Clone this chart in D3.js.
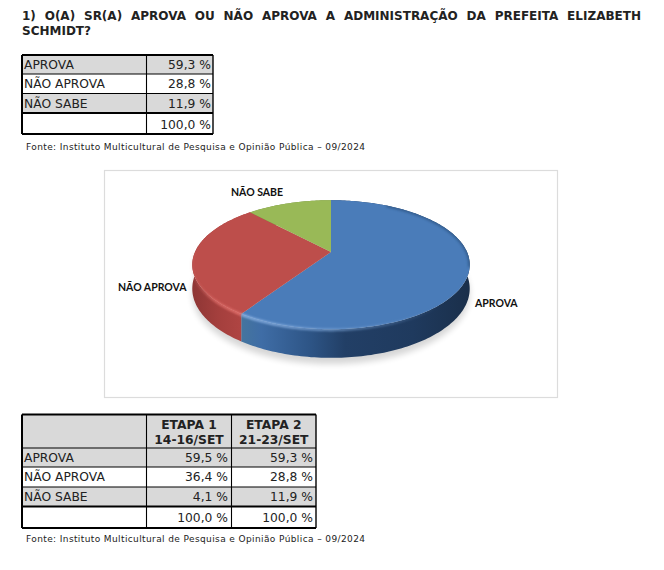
<!DOCTYPE html>
<html>
<head>
<meta charset="utf-8">
<script src="https://cdn.jsdelivr.net/npm/d3@7.9.0/dist/d3.min.js"></script>
<style>
  html, body { margin: 0; padding: 0; background: #fff; }
  svg { display: block; }
  text { font-family: "DejaVu Sans", Verdana, sans-serif; fill: #222; }
  .pie-label { font-family: Lato, "Open Sans", sans-serif; font-weight: 700; font-size: 10.5px; fill: #111; }
</style>
</head>
<body>
<svg width="664" height="570"></svg>
<script>
const titleLines = [
  '1) O(A) SR(A) APROVA OU NÃO APROVA A ADMINISTRAÇÃO DA PREFEITA ELIZABETH',
  'SCHMIDT?'
];
const sourceText = 'Fonte: Instituto Multicultural de Pesquisa e Opinião Pública – 09/2024';
const categories = ['APROVA', 'NÃO APROVA', 'NÃO SABE'];
const etapa1 = [59.5, 36.4, 4.1];
const etapa2 = [59.3, 28.8, 11.9];
const totals = [100.0, 100.0];
const etapaHeaders = [['ETAPA 1', '14-16/SET'], ['ETAPA 2', '21-23/SET']];

const svg = d3.select('svg');
const fmt = (v) => d3.format('.1f')(v).replace('.', ',') + ' %';
const defs = svg.append('defs');

// title, justified to the page width like the original document
const line1 = svg.append('text').attr('x', 22).attr('y', 20)
  .attr('font-size', 12).attr('font-weight', 700).text(titleLines[0]);
const gaps = titleLines[0].split(' ').length - 1;
line1.attr('word-spacing', (619 - line1.node().getComputedTextLength()) / gaps);
svg.append('text').attr('x', 22).attr('y', 35)
  .attr('font-size', 12).attr('font-weight', 700).text(titleLines[1]);

function drawTable(cols, rows, shaded, cells) {
  const g = svg.append('g');
  const width = cols[cols.length - 1] - cols[0];
  g.selectAll('rect').data(shaded).join('rect')
    .attr('x', cols[0]).attr('width', width)
    .attr('y', (i) => rows[i])
    .attr('height', (i) => rows[i + 1] - rows[i])
    .attr('fill', '#d9d9d9');
  g.selectAll('line.h').data(rows).join('line').attr('class', 'h')
    .attr('x1', cols[0]).attr('x2', cols[cols.length - 1])
    .attr('y1', (d) => d).attr('y2', (d) => d)
    .attr('stroke', '#000')
    .attr('stroke-width', (d, i) => (i === 0 || i >= rows.length - 2 ? 1.8 : 1.1));
  g.selectAll('line.v').data(cols).join('line').attr('class', 'v')
    .attr('y1', rows[0]).attr('y2', rows[rows.length - 1])
    .attr('x1', (d) => d).attr('x2', (d) => d)
    .attr('stroke', '#000')
    .attr('stroke-width', (d, i) => (i === 0 ? 2 : i === cols.length - 1 ? 1.4 : 1.1));
  g.selectAll('text').data(cells).join('text')
    .attr('x', (d) => d.x).attr('y', (d) => d.y)
    .attr('text-anchor', (d) => d.anchor || 'start')
    .attr('font-size', 12.3)
    .attr('font-weight', (d) => (d.bold ? 700 : 400))
    .text((d) => d.text);
}

// first table
const t1Cols = [22, 146.5, 213];
const t1Rows = [55, 74, 93.5, 113, 134];
const t1Cells = [];
categories.forEach((c, i) => {
  t1Cells.push({ x: 24, y: t1Rows[i] + 14.2, text: c });
  t1Cells.push({ x: 211, y: t1Rows[i] + 14.2, text: fmt(etapa2[i]), anchor: 'end' });
});
t1Cells.push({ x: 211, y: t1Rows[3] + 15.6, text: fmt(totals[1]), anchor: 'end' });
drawTable(t1Cols, t1Rows, [0, 2], t1Cells);

svg.append('text').attr('x', 26).attr('y', 150).attr('font-size', 9)
  .attr('textLength', 339).attr('fill', '#333').text(sourceText);

// chart frame
svg.append('rect').attr('x', 104.5).attr('y', 170.5).attr('width', 453).attr('height', 227)
  .attr('fill', '#fff').attr('stroke', '#dcdcdc').attr('stroke-width', 1.2);

// pie in perspective: angles come from d3.pie, rim from a projected circle
const cx = 331, cy = 252, rx = 136, ry = 62, persp = 0.197, depth = 23;
const project = (a, drop = 0) => {
  const w = 1 + persp * Math.cos(a);
  return [cx + rx * Math.sin(a) / w, cy + (-ry * Math.cos(a) + drop) / w];
};
const rim = (a0, a1, drop = 0) =>
  d3.range(a0, a1, 0.02).concat(a1).map((a) => project(a, drop));
const line = d3.line();
const slices = d3.pie().sort(null)(etapa2);

const gradient = (id, stops, x1, x2) => {
  const gr = defs.append('linearGradient').attr('id', id)
    .attr('gradientUnits', 'userSpaceOnUse')
    .attr('x1', x1).attr('x2', x2).attr('y1', 0).attr('y2', 0);
  stops.forEach(([o, c, op]) => gr.append('stop').attr('offset', o)
    .attr('stop-color', c).attr('stop-opacity', op === undefined ? 1 : op));
  return `url(#${id})`;
};
defs.append('filter').attr('id', 'soft').attr('x', '-20%').attr('y', '-20%')
  .attr('width', '140%').attr('height', '140%')
  .append('feGaussianBlur').attr('stdDeviation', 1.1);
defs.append('filter').attr('id', 'shadow').attr('x', '-20%').attr('y', '-20%')
  .attr('width', '140%').attr('height', '140%')
  .append('feGaussianBlur').attr('stdDeviation', 3);
defs.append('clipPath').attr('id', 'topFace').append('path')
  .attr('d', line(rim(0, 2 * Math.PI)) + 'Z');

const wallFill = [
  gradient('wall0', [[0, '#44749f'], [0.08, '#3f6da6'], [0.3, '#2d5485'], [0.45, '#223f66'], [0.75, '#1f3a5e'], [1, '#1a2f4a']], 243, 470),
  gradient('wall1', [[0, '#8e3635'], [0.5, '#a43f3d'], [1, '#b04543']], 193, 243),
  '#6f8a3e'
];
const topFill = ['#4a7cb9', '#bd4e4b', '#99b957'];

// soft shadow below the pie
svg.append('path')
  .attr('d', line(rim(0, 2 * Math.PI, depth + 5)) + 'Z')
  .attr('fill', '#000').attr('opacity', 0.16).attr('filter', 'url(#shadow)');

// walls first, the top faces hide whatever lies behind
svg.append('g').selectAll('path').data(slices).join('path')
  .attr('d', (d) => line(rim(d.startAngle, d.endAngle).concat(rim(d.startAngle, d.endAngle, depth).reverse())) + 'Z')
  .attr('fill', (d, i) => wallFill[i]);

svg.append('g').selectAll('path').data(slices).join('path')
  .attr('d', (d) => line([[cx, cy]].concat(rim(d.startAngle, d.endAngle))) + 'Z')
  .attr('fill', (d, i) => topFill[i]);

// bevel along the rim, the dark part stays inside the top face
svg.append('g').attr('clip-path', 'url(#topFace)').append('path')
  .attr('d', line(rim(0.5, 1.8)))
  .attr('fill', 'none').attr('stroke', '#24466f').attr('stroke-width', 3.5)
  .attr('opacity', 0.5).attr('filter', 'url(#soft)');
const bevel = [
  { a0: 1.75, a1: slices[0].endAngle, color: gradient('bevel0', [[0, '#8db4e6', 0.95], [0.45, '#7fa8da', 0.7], [1, '#6d97cb', 0]], 243, 440) },
  { a0: slices[1].startAngle, a1: 4.7, color: gradient('bevel1', [[0, '#dc6d69', 0.1], [0.45, '#df6d69', 0.85], [1, '#e3716d', 1]], 193, 243) }
];
svg.append('g').selectAll('path').data(bevel).join('path')
  .attr('d', (d) => line(rim(d.a0, d.a1, 0.5)))
  .attr('fill', 'none')
  .attr('stroke', (d) => d.color)
  .attr('stroke-width', 2.6)
  .attr('filter', 'url(#soft)');

const labelPos = [[475, 307], [118, 291], [231, 196]];
svg.append('g').selectAll('text').data(categories).join('text')
  .attr('class', 'pie-label')
  .attr('x', (d, i) => labelPos[i][0])
  .attr('y', (d, i) => labelPos[i][1])
  .text((d) => d);

// second table
const t2Cols = [22, 146.5, 231.5, 316];
const t2Rows = [414.5, 448, 467, 487, 506.5, 528];
const t2Cells = [];
etapaHeaders.forEach((h, j) => {
  const mid = (t2Cols[j + 1] + t2Cols[j + 2]) / 2;
  t2Cells.push({ x: mid, y: 429, text: h[0], anchor: 'middle', bold: true });
  t2Cells.push({ x: mid, y: 444, text: h[1], anchor: 'middle', bold: true });
});
categories.forEach((c, i) => {
  const y = t2Rows[i + 1] + 14.2;
  t2Cells.push({ x: 24, y, text: c });
  t2Cells.push({ x: 228, y, text: fmt(etapa1[i]), anchor: 'end' });
  t2Cells.push({ x: 313, y, text: fmt(etapa2[i]), anchor: 'end' });
});
t2Cells.push({ x: 228, y: t2Rows[4] + 15.6, text: fmt(totals[0]), anchor: 'end' });
t2Cells.push({ x: 313, y: t2Rows[4] + 15.6, text: fmt(totals[1]), anchor: 'end' });
drawTable(t2Cols, t2Rows, [0, 1, 3], t2Cells);

svg.append('text').attr('x', 26).attr('y', 542).attr('font-size', 9)
  .attr('textLength', 339).attr('fill', '#333').text(sourceText);
</script>
</body>
</html>
